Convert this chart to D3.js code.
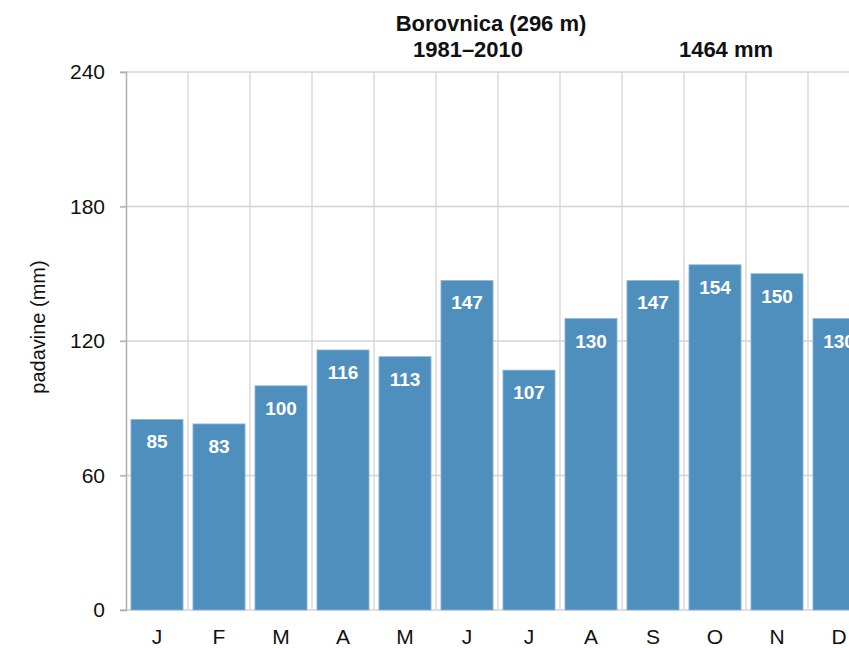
<!DOCTYPE html>
<html>
<head>
<meta charset="utf-8">
<script src="https://cdn.jsdelivr.net/npm/d3@7"></script>
<style>
  body { margin: 0; background: #fff; }
  svg { font-family: "Liberation Sans", Arial, sans-serif; }
</style>
</head>
<body>
<div id="chart"></div>
<script>
// monthly precipitation, Borovnica 1981-2010
var months = ["J", "F", "M", "A", "M", "J", "J", "A", "S", "O", "N", "D"];
var precip = [85, 83, 100, 116, 113, 147, 107, 130, 147, 154, 150, 130];
var yTicks = [0, 60, 120, 180, 240];
var station = "Borovnica (296 m)";
var period = "1981–2010";
var total = "1464 mm";

var width = 849, height = 648;
var margin = {top: 72, right: -21, bottom: 38, left: 126};

var svg = d3.select("#chart").append("svg")
    .attr("width", width)
    .attr("height", height);

var x = d3.scaleBand()
    .domain(d3.range(months.length))
    .range([margin.left, width - margin.right])
    .paddingInner(0.16)
    .paddingOuter(0.08);

var y = d3.scaleLinear()
    .domain([0, 240])
    .range([height - margin.bottom, margin.top]);

// horizontal grid
svg.append("g")
  .selectAll("line")
  .data(yTicks)
  .join("line")
    .attr("x1", margin.left - 6)
    .attr("x2", width)
    .attr("y1", function(d) { return y(d); })
    .attr("y2", function(d) { return y(d); })
    .attr("stroke", "#d4d4d4")
    .attr("stroke-width", 1.3);

// vertical grid between months
svg.append("g")
  .selectAll("line")
  .data(d3.range(1, months.length))
  .join("line")
    .attr("x1", function(i) { return x(i) - x.step() * x.paddingInner() / 2; })
    .attr("x2", function(i) { return x(i) - x.step() * x.paddingInner() / 2; })
    .attr("y1", y(240))
    .attr("y2", y(0))
    .attr("stroke", "#d4d4d4")
    .attr("stroke-width", 1.3);

// bars
svg.append("g")
  .selectAll("rect")
  .data(precip)
  .join("rect")
    .attr("x", function(d, i) { return x(i); })
    .attr("y", function(d) { return y(d); })
    .attr("width", x.bandwidth())
    .attr("height", function(d) { return y(0) - y(d); })
    .attr("fill", "#4f8fbe")
    .attr("stroke", "#8fb6d6")
    .attr("stroke-width", 0.8);

// value labels
svg.append("g")
  .selectAll("text")
  .data(precip)
  .join("text")
    .attr("x", function(d, i) { return x(i) + x.bandwidth() / 2; })
    .attr("y", function(d) { return y(d) + 29; })
    .attr("text-anchor", "middle")
    .attr("fill", "#fff")
    .attr("font-weight", "bold")
    .attr("font-size", "19px")
    .text(function(d) { return d; });

// y axis
var yAxis = svg.append("g")
    .attr("transform", "translate(" + margin.left + ",0)")
    .call(d3.axisLeft(y).tickValues(yTicks).tickSize(6).tickPadding(15));
yAxis.select(".domain").attr("stroke", "#b0b0b0").attr("stroke-width", 1.5);
yAxis.selectAll(".tick line").attr("stroke", "#b0b0b0").attr("stroke-width", 1.3);
yAxis.selectAll(".tick text")
    .attr("font-size", "21px")
    .attr("fill", "#111")
    .attr("font-family", "'Liberation Sans', Arial, sans-serif");

// x axis labels
svg.append("g")
  .selectAll("text")
  .data(months)
  .join("text")
    .attr("x", function(d, i) { return x(i) + x.bandwidth() / 2; })
    .attr("y", height - 4)
    .attr("text-anchor", "middle")
    .attr("font-size", "21px")
    .attr("fill", "#111")
    .text(function(d) { return d; });

// y axis title
svg.append("text")
    .attr("transform", "translate(45,327) rotate(-90)")
    .attr("text-anchor", "middle")
    .attr("font-size", "20px")
    .attr("fill", "#111")
    .text("padavine (mm)");

// titles
svg.append("text")
    .attr("x", 491).attr("y", 31)
    .attr("text-anchor", "middle")
    .attr("font-weight", "bold").attr("font-size", "22px")
    .attr("fill", "#111")
    .text(station);
svg.append("text")
    .attr("x", 468).attr("y", 57)
    .attr("text-anchor", "middle")
    .attr("font-weight", "bold").attr("font-size", "22px")
    .attr("fill", "#111")
    .text(period);
svg.append("text")
    .attr("x", 726).attr("y", 57)
    .attr("text-anchor", "middle")
    .attr("font-weight", "bold").attr("font-size", "22px")
    .attr("fill", "#111")
    .text(total);
</script>
</body>
</html>
